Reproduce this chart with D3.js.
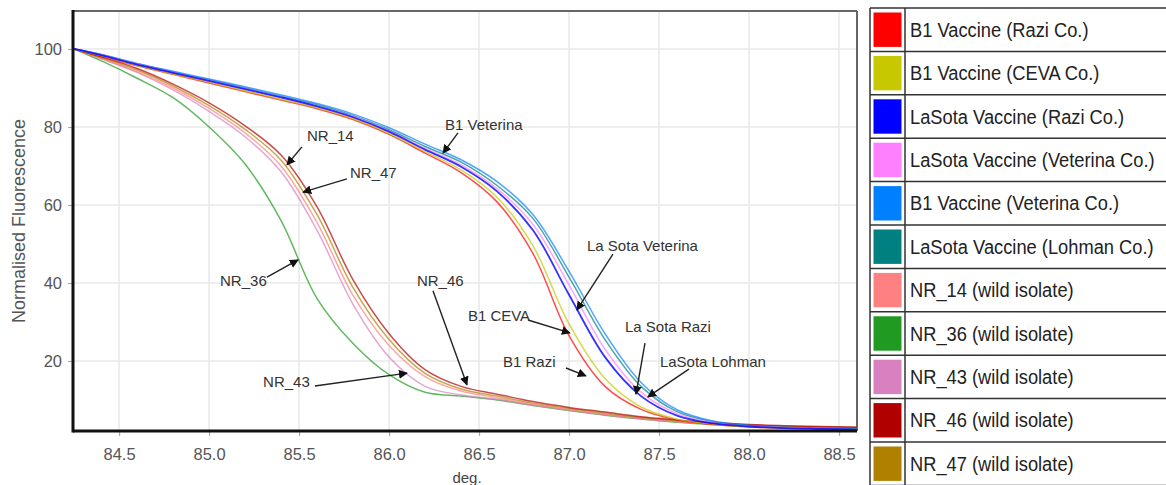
<!DOCTYPE html>
<html>
<head>
<meta charset="utf-8">
<script src="https://cdn.jsdelivr.net/npm/d3@7/dist/d3.min.js"></script>
<style>
  html, body { margin: 0; padding: 0; background: #fff; }
  svg { display: block; font-family: "Liberation Sans", Arial, sans-serif; }
</style>
</head>
<body>
<svg id="chart" width="1166" height="485"></svg>
<script>
// Melting temperatures (deg.) at which each curve is sampled
const temps = [84.25, 84.4, 84.6, 84.8, 85.0, 85.2, 85.4, 85.6, 85.8, 86.0, 86.2, 86.4,
               86.6, 86.8, 87.0, 87.2, 87.4, 87.6, 87.8, 88.0, 88.2, 88.4, 88.6];

// Normalised fluorescence per sample
const b1Razi         = [100, 98.2, 95.7, 93.5, 91.3, 89.1, 86.9, 84.7, 81.9, 78.1, 73.3, 68.3, 60.8, 47.5, 26.5, 13.5, 7.6, 4.9, 3.7, 3.1, 2.8, 2.6, 2.4];
const b1Ceva         = [100, 98.3, 95.8, 93.6, 91.5, 89.3, 87.1, 84.9, 82.1, 78.4, 73.7, 69.0, 62.0, 49.5, 29.5, 15.5, 8.2, 5.1, 3.8, 3.1, 2.8, 2.6, 2.4];
const lasotaRazi     = [100, 98.4, 96.0, 93.9, 91.8, 89.7, 87.6, 85.3, 82.5, 78.8, 74.2, 69.8, 63.5, 53.5, 37.0, 21.0, 11.0, 6.0, 4.0, 3.2, 2.8, 2.6, 2.4];
const lasotaVeterina = [100, 98.5, 96.1, 94.0, 91.9, 89.8, 87.7, 85.4, 82.7, 79.0, 74.5, 70.3, 64.2, 55.0, 39.5, 23.0, 12.0, 6.5, 4.2, 3.3, 2.9, 2.6, 2.4];
const b1Veterina     = [100, 98.6, 96.3, 94.3, 92.3, 90.3, 88.2, 86.0, 83.3, 79.8, 75.6, 71.6, 66.0, 57.5, 43.0, 27.0, 14.5, 7.5, 4.6, 3.5, 3.0, 2.7, 2.5];
const lasotaLohman   = [100, 98.6, 96.2, 94.1, 92.1, 90.0, 87.9, 85.7, 82.9, 79.3, 75.0, 71.0, 65.0, 56.5, 41.5, 25.5, 13.5, 7.0, 4.4, 3.4, 2.9, 2.7, 2.5];
const nr14           = [100, 97.6, 94.2, 90.0, 84.8, 78.5, 70.0, 55.5, 36.8, 24.0, 16.0, 12.3, 10.6, 8.9, 7.5, 6.3, 5.3, 4.5, 3.9, 3.5, 3.2, 3.0, 2.9];
const nr36           = [100, 97.0, 92.5, 87.5, 80.0, 70.5, 56.0, 36.0, 24.5, 16.5, 12.0, 11.0, 10.0, 8.6, 7.3, 6.1, 5.1, 4.3, 3.7, 3.3, 3.0, 2.8, 2.7];
const nr43           = [100, 97.5, 94.0, 89.5, 84.0, 77.5, 68.5, 53.5, 34.5, 21.0, 13.5, 11.3, 10.2, 8.7, 7.4, 6.2, 5.2, 4.4, 3.8, 3.4, 3.1, 2.9, 2.8];
const nr46           = [100, 98.0, 95.0, 91.0, 86.2, 80.3, 72.8, 59.5, 40.8, 27.0, 17.8, 13.5, 11.5, 9.6, 8.1, 6.9, 5.7, 4.9, 4.2, 3.7, 3.4, 3.2, 3.0];
const nr47           = [100, 97.8, 94.6, 90.5, 85.5, 79.4, 71.5, 57.5, 38.8, 25.5, 16.8, 12.8, 11.0, 9.2, 7.8, 6.6, 5.5, 4.7, 4.0, 3.6, 3.3, 3.1, 3.0];

// Legend order and names
const seriesNames = [
  "B1 Vaccine (Razi Co.)", "B1 Vaccine (CEVA Co.)", "LaSota Vaccine (Razi Co.)",
  "LaSota Vaccine (Veterina Co.)", "B1 Vaccine (Veterina Co.)", "LaSota Vaccine (Lohman Co.)",
  "NR_14 (wild isolate)", "NR_36 (wild isolate)", "NR_43 (wild isolate)",
  "NR_46 (wild isolate)", "NR_47 (wild isolate)"
];
const seriesValues = [b1Razi, b1Ceva, lasotaRazi, lasotaVeterina, b1Veterina, lasotaLohman,
                      nr14, nr36, nr43, nr46, nr47];
const seriesColors = ["#ff0000", "#c8c800", "#0000ff", "#ff80ff", "#0080ff", "#008080",
                      "#ff8080", "#209a20", "#d880c0", "#b00000", "#b08000"];
// Drawing order: lower layers first so the vaccine blues sit on top
const drawOrder = [7, 8, 6, 10, 9, 0, 1, 5, 4, 3, 2];

// Axis ticks
const xTicks = [84.5, 85.0, 85.5, 86.0, 86.5, 87.0, 87.5, 88.0, 88.5];
const yTicks = [20, 40, 60, 80, 100];

// Curve call-outs: label, label anchor (deg., fluorescence), arrow start, arrow tip
const calloutLabels = ["NR_14", "NR_47", "B1 Veterina", "NR_36", "NR_43", "NR_46",
                       "La Sota Veterina", "B1 CEVA", "La Sota Razi", "B1 Razi", "LaSota Lohman"];
const calloutText  = [[85.544, 76.4], [85.783, 66.9], [86.311, 79.2], [85.061, 39.2], [85.300, 13.3], [86.155, 39.2],
                      [87.100, 48.2], [86.438, 30.3], [87.311, 27.4], [86.633, 18.5], [87.505, 18.5]];
const calloutFrom  = [[85.516, 74.9], [85.766, 66.7], [86.383, 78.5], [85.322, 41.5], [85.588, 13.6], [86.244, 38.0],
                      [87.244, 47.4], [86.772, 30.5], [87.422, 24.6], [86.983, 18.2], [87.666, 17.9]];
const calloutTip   = [[85.433, 70.3], [85.522, 63.3], [86.300, 73.3], [85.494, 45.9], [86.100, 16.9], [86.433, 13.9],
                      [87.044, 33.1], [87.005, 27.2], [87.372, 11.5], [87.094, 16.2], [87.438, 10.8]];

const svg = d3.select("#chart");
const plot = { left: 73, right: 857, top: 11, bottom: 431 };

const x = d3.scaleLinear().domain([84.244, 88.6]).range([plot.left, plot.right]);
const y = d3.scaleLinear().domain([2.05, 109.74]).range([plot.bottom, plot.top]);

// Arrowhead marker
const defs = svg.append("defs");
defs.append("marker")
  .attr("id", "arrowhead")
  .attr("viewBox", "0 0 10 10")
  .attr("refX", 9).attr("refY", 5)
  .attr("markerWidth", 9).attr("markerHeight", 9)
  .attr("markerUnits", "userSpaceOnUse")
  .attr("orient", "auto")
  .append("path").attr("d", "M0,0 L10,5 L0,10 Z").attr("fill", "#111");

defs.append("clipPath").attr("id", "plotClip")
  .append("rect").attr("x", plot.left).attr("y", plot.top)
  .attr("width", plot.right - plot.left).attr("height", plot.bottom - plot.top);

// Grid
const grid = svg.append("g");
grid.selectAll("line.vx").data(xTicks).join("line")
  .attr("x1", d => x(d)).attr("x2", d => x(d))
  .attr("y1", plot.top).attr("y2", plot.bottom)
  .attr("stroke", "#e8e8e8").attr("stroke-width", 1.5);
grid.selectAll("line.hy").data(yTicks).join("line")
  .attr("x1", plot.left).attr("x2", plot.right)
  .attr("y1", d => y(d)).attr("y2", d => y(d))
  .attr("stroke", "#e8e8e8").attr("stroke-width", 1.5);

// Axes (ticks and labels)
const xAxis = svg.append("g").attr("transform", `translate(0,${plot.bottom})`)
  .call(d3.axisBottom(x).tickValues(xTicks).tickFormat(d3.format(".1f")).tickSize(5).tickPadding(12));
const yAxis = svg.append("g").attr("transform", `translate(${plot.left},0)`)
  .call(d3.axisLeft(y).tickValues(yTicks).tickFormat(d3.format("d")).tickSize(5).tickPadding(6));
[xAxis, yAxis].forEach(g => {
  g.select(".domain").remove();
  g.selectAll(".tick line").attr("stroke", "#aaa").attr("stroke-width", 1.2);
  g.selectAll(".tick text").attr("fill", "#555").style("font-size", "16.5px")
    .style("font-family", "'Liberation Sans', Arial, sans-serif");
});

// Frame: light top/right, heavy left/bottom
svg.append("line").attr("x1", plot.left).attr("x2", plot.right).attr("y1", plot.top).attr("y2", plot.top)
  .attr("stroke", "#666").attr("stroke-width", 2);
svg.append("line").attr("x1", plot.right).attr("x2", plot.right).attr("y1", plot.top).attr("y2", plot.bottom)
  .attr("stroke", "#666").attr("stroke-width", 2);

// Curves
const line = d3.line()
  .x((d, i) => x(temps[i]))
  .y(d => y(d))
  .curve(d3.curveCatmullRom.alpha(0.5));

svg.append("g").attr("clip-path", "url(#plotClip)")
  .selectAll("path").data(drawOrder).join("path")
  .attr("d", k => line(seriesValues[k]))
  .attr("fill", "none")
  .attr("stroke", k => seriesColors[k])
  .attr("stroke-width", k => (k === 2 ? 1.8 : 1.5))
  .attr("stroke-opacity", k => (k === 2 ? 0.8 : 0.7));

svg.append("line").attr("x1", plot.left).attr("x2", plot.left).attr("y1", plot.top - 1).attr("y2", plot.bottom + 1.5)
  .attr("stroke", "#111").attr("stroke-width", 3);
svg.append("line").attr("x1", plot.left).attr("x2", plot.right).attr("y1", plot.bottom).attr("y2", plot.bottom)
  .attr("stroke", "#111").attr("stroke-width", 3);

// Axis titles
svg.append("text").attr("x", 467).attr("y", 483).attr("text-anchor", "middle")
  .attr("fill", "#444").style("font-size", "15px").text("deg.");
svg.append("text").attr("transform", "translate(25,221) rotate(-90)").attr("text-anchor", "middle")
  .attr("fill", "#555").style("font-size", "18px").text("Normalised Fluorescence");

// Call-outs
const callouts = svg.append("g");
calloutLabels.forEach((lab, i) => {
  callouts.append("line")
    .attr("x1", x(calloutFrom[i][0])).attr("y1", y(calloutFrom[i][1]))
    .attr("x2", x(calloutTip[i][0])).attr("y2", y(calloutTip[i][1]))
    .attr("stroke", "#222").attr("stroke-width", 1.4)
    .attr("marker-end", "url(#arrowhead)");
  callouts.append("text")
    .attr("x", x(calloutText[i][0])).attr("y", y(calloutText[i][1]))
    .attr("fill", "#333").style("font-size", "15px").text(lab);
});

// Legend table
const leg = { left: 870, swatchCol: 905, top: 8, rowH: 43.4, right: 1175 };
const legend = svg.append("g");
const rows = legend.selectAll("g").data(seriesNames).join("g")
  .attr("transform", (d, i) => `translate(0,${leg.top + i * leg.rowH})`);
rows.append("rect")
  .attr("x", leg.left + 3.5).attr("y", 4.5)
  .attr("width", leg.swatchCol - leg.left - 7).attr("height", leg.rowH - 9)
  .attr("fill", (d, i) => seriesColors[i]);
rows.append("text")
  .attr("transform", `translate(${leg.swatchCol + 5},${leg.rowH / 2 + 7}) scale(0.915,1)`)
  .attr("fill", "#222").style("font-size", "20px").text(d => d);
// Grid lines of the table
const nRows = seriesNames.length;
legend.selectAll("line.h").data(d3.range(nRows + 1)).join("line")
  .attr("x1", leg.left).attr("x2", leg.right)
  .attr("y1", i => leg.top + i * leg.rowH).attr("y2", i => leg.top + i * leg.rowH)
  .attr("stroke", "#333").attr("stroke-width", 1.5);
[leg.left, leg.swatchCol].forEach(xx => {
  legend.append("line").attr("x1", xx).attr("x2", xx)
    .attr("y1", leg.top).attr("y2", leg.top + nRows * leg.rowH)
    .attr("stroke", "#333").attr("stroke-width", 1.5);
});
</script>
</body>
</html>
